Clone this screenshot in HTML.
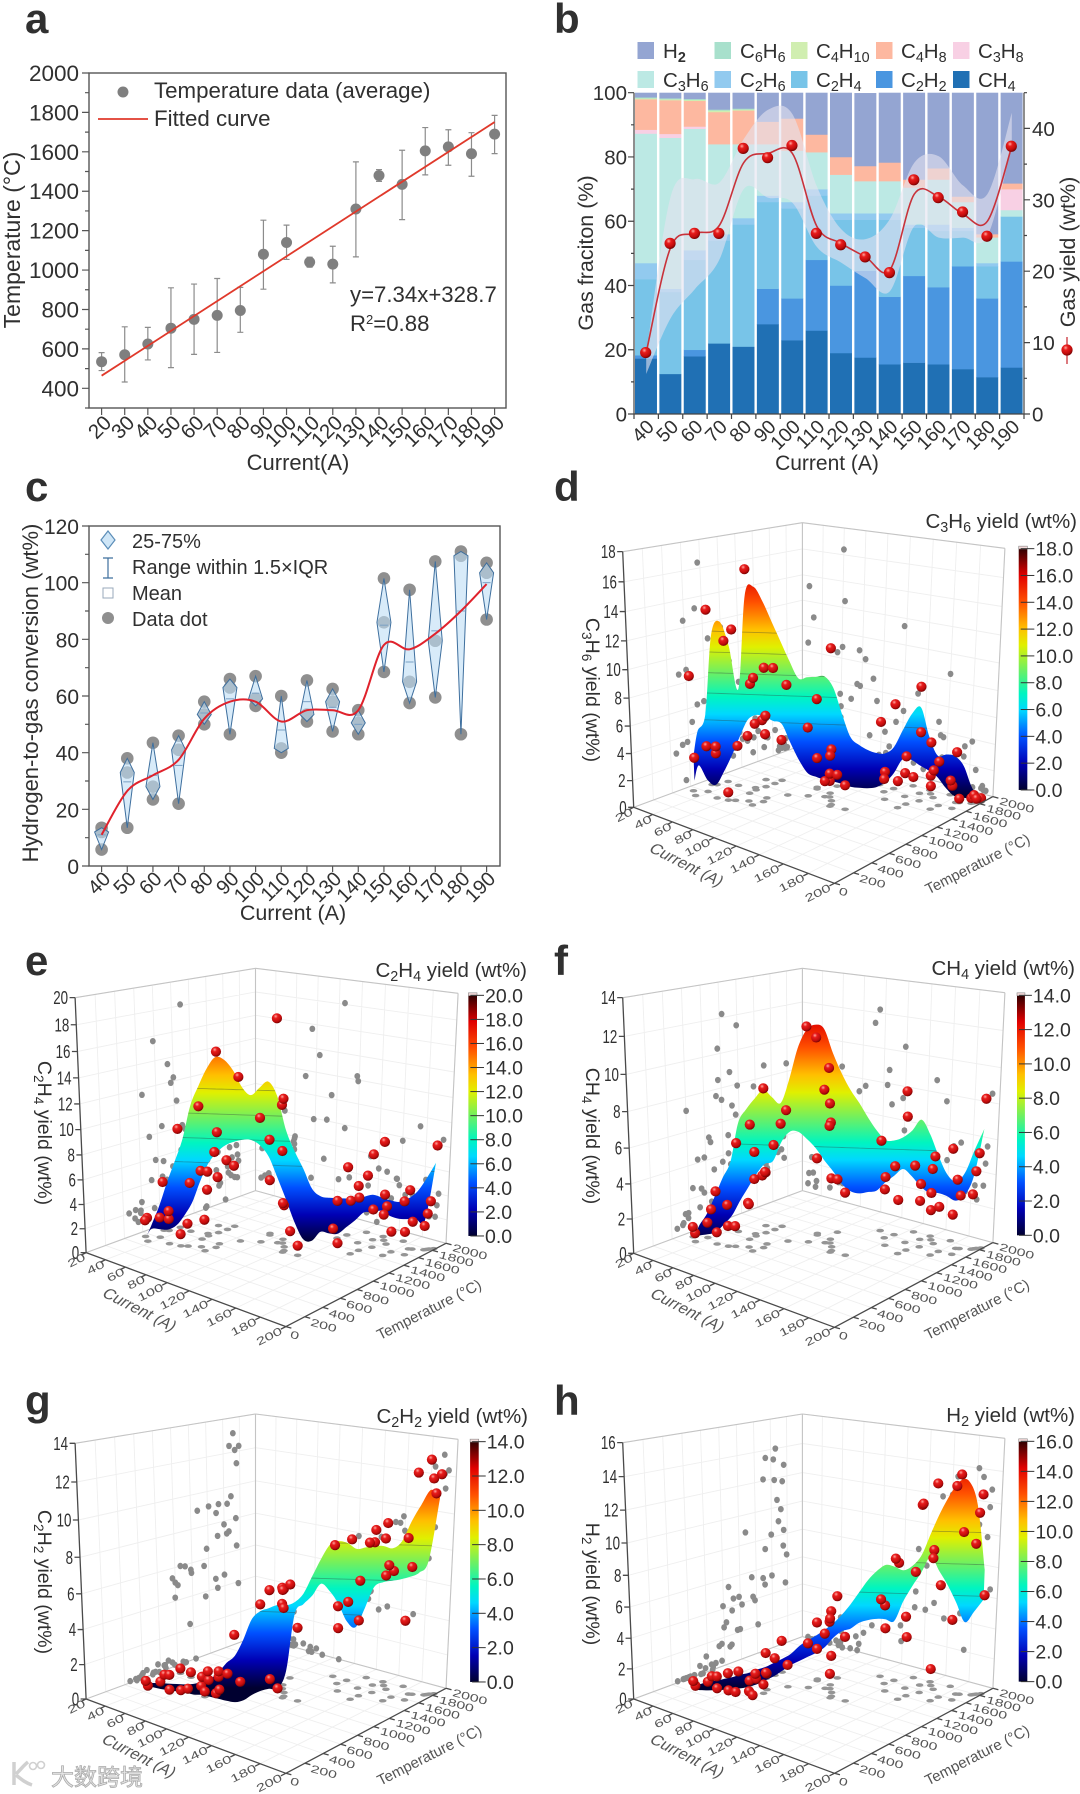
<!DOCTYPE html>
<html lang="en">
<head>
<meta charset="utf-8">
<title>Temperature, gas fraction, conversion and yield charts</title>
<style>
html,body{margin:0;padding:0;background:#fff;}
svg{display:block;font-family:"Liberation Sans","Noto Sans CJK SC",sans-serif;}
text{fill:#303030;}
.sm{font-size:70%;}
</style>
</head>
<body>
<svg id="fig" xmlns="http://www.w3.org/2000/svg" width="1080" height="1794" viewBox="0 0 1080 1794">
<defs>
<radialGradient id="sphere" cx="0.38" cy="0.3" r="0.75">
<stop offset="0" stop-color="#ffa8a0"/><stop offset="0.28" stop-color="#e81c1c"/><stop offset="0.7" stop-color="#c00c0c"/><stop offset="1" stop-color="#640000"/>
</radialGradient>
<linearGradient id="jet-bar" x1="0" y1="1" x2="0" y2="0">
<stop offset="0" stop-color="#000030"/><stop offset="0.11" stop-color="#0000b4"/><stop offset="0.22" stop-color="#0050ff"/><stop offset="0.33" stop-color="#00d8ff"/><stop offset="0.4" stop-color="#00f5c0"/><stop offset="0.5" stop-color="#70f060"/><stop offset="0.6" stop-color="#e0f000"/><stop offset="0.67" stop-color="#ffc000"/><stop offset="0.78" stop-color="#ff5000"/><stop offset="0.89" stop-color="#e00000"/><stop offset="1" stop-color="#300000"/>
</linearGradient>
</defs>

<g id="panel-a">
<text x="25" y="33" font-size="42" font-weight="bold" fill="#111">a</text>
<text transform="translate(20,240) rotate(-90)" text-anchor="middle" font-size="23">Temperature (°C)</text>
<text x="298" y="470" text-anchor="middle" font-size="22">Current(A)</text>
<text x="154" y="98" font-size="22.3">Temperature data (average)</text>
<text x="154" y="126" font-size="22.3">Fitted curve</text>
<circle cx="123" cy="92" r="5.5" fill="#7f7f7f"/>
<line x1="98" y1="119" x2="148" y2="119" stroke="#e0392b" stroke-width="1.8"/>
<text x="350" y="302" font-size="22.2">y=7.34x+328.7</text>
<text x="350" y="331" font-size="22.2">R<tspan dy="-7" font-size="13">2</tspan><tspan dy="7">=0.88</tspan></text>
</g>

<g id="panel-b">
<text x="554" y="33" font-size="42" font-weight="bold" fill="#111">b</text>
<text transform="translate(593,253) rotate(-90)" text-anchor="middle" font-size="21.5">Gas fraciton (%)</text>
<text transform="translate(1075,252) rotate(-90)" text-anchor="middle" font-size="21.5">Gas yield (wt%)</text>
<text x="827" y="470" text-anchor="middle" font-size="21">Current (A)</text>
<g font-size="20.5">
<text x="663" y="58">H<tspan dy="4" class="sm" font-weight="bold">2</tspan></text>
<text x="740" y="58">C<tspan dy="4" class="sm">6</tspan><tspan dy="-4">H</tspan><tspan dy="4" class="sm">6</tspan></text>
<text x="816" y="58">C<tspan dy="4" class="sm">4</tspan><tspan dy="-4">H</tspan><tspan dy="4" class="sm">10</tspan></text>
<text x="901" y="58">C<tspan dy="4" class="sm">4</tspan><tspan dy="-4">H</tspan><tspan dy="4" class="sm">8</tspan></text>
<text x="978" y="58">C<tspan dy="4" class="sm">3</tspan><tspan dy="-4">H</tspan><tspan dy="4" class="sm">8</tspan></text>
<text x="663" y="87">C<tspan dy="4" class="sm">3</tspan><tspan dy="-4">H</tspan><tspan dy="4" class="sm">6</tspan></text>
<text x="740" y="87">C<tspan dy="4" class="sm">2</tspan><tspan dy="-4">H</tspan><tspan dy="4" class="sm">6</tspan></text>
<text x="816" y="87">C<tspan dy="4" class="sm">2</tspan><tspan dy="-4">H</tspan><tspan dy="4" class="sm">4</tspan></text>
<text x="901" y="87">C<tspan dy="4" class="sm">2</tspan><tspan dy="-4">H</tspan><tspan dy="4" class="sm">2</tspan></text>
<text x="978" y="87">CH<tspan dy="4" class="sm">4</tspan></text>
</g>
</g>

<g id="panel-c">
<text x="25" y="501" font-size="42" font-weight="bold" fill="#111">c</text>
<text transform="translate(38,693) rotate(-90)" text-anchor="middle" font-size="22">Hydrogen-to-gas conversion (wt%)</text>
<text x="293" y="920" text-anchor="middle" font-size="21.5">Current (A)</text>
<text x="132" y="548" font-size="20">25-75%</text>
<text x="132" y="574" font-size="20">Range within 1.5×IQR</text>
<text x="132" y="600" font-size="20">Mean</text>
<text x="132" y="626" font-size="20">Data dot</text>
<polygon points="108,531 115,540 108,549 101,540" fill="#cfe6f7" stroke="#5b8db8" stroke-width="1.2"/>
<path d="M103 558H113M108 558V578M103 578H113" fill="none" stroke="#3e6f9e" stroke-width="1.2"/>
<rect x="103" y="588" width="10" height="10" fill="none" stroke="#9ab" stroke-width="1"/>
<circle cx="108" cy="618" r="6" fill="#8f8f8f"/>
</g>

<g id="panel-d">
<text x="554" y="501" font-size="42" font-weight="bold" fill="#111">d</text>
<text x="1077" y="528" text-anchor="end" font-size="20.5">C<tspan dy="4" class="sm">3</tspan><tspan dy="-4">H</tspan><tspan dy="4" class="sm">6</tspan><tspan dy="-4"> yield (wt%)</tspan></text>
<text transform="translate(586,690) rotate(90)" text-anchor="middle" font-size="19.5">C<tspan dy="4" class="sm">3</tspan><tspan dy="-4">H</tspan><tspan dy="4" class="sm">6</tspan><tspan dy="-4"> yield (wt%)</tspan></text>
</g>
<g id="panel-e">
<text x="25" y="975" font-size="42" font-weight="bold" fill="#111">e</text>
<text x="527" y="977" text-anchor="end" font-size="20.5">C<tspan dy="4" class="sm">2</tspan><tspan dy="-4">H</tspan><tspan dy="4" class="sm">4</tspan><tspan dy="-4"> yield (wt%)</tspan></text>
<text transform="translate(38,1133) rotate(90)" text-anchor="middle" font-size="19.5">C<tspan dy="4" class="sm">2</tspan><tspan dy="-4">H</tspan><tspan dy="4" class="sm">4</tspan><tspan dy="-4"> yield (wt%)</tspan></text>
</g>
<g id="panel-f">
<text x="554" y="975" font-size="42" font-weight="bold" fill="#111">f</text>
<text x="1075" y="975" text-anchor="end" font-size="20.5">CH<tspan dy="4" class="sm">4</tspan><tspan dy="-4"> yield (wt%)</tspan></text>
<text transform="translate(586,1136) rotate(90)" text-anchor="middle" font-size="19.5">CH<tspan dy="4" class="sm">4</tspan><tspan dy="-4"> yield (wt%)</tspan></text>
</g>
<g id="panel-g">
<text x="25" y="1415" font-size="42" font-weight="bold" fill="#111">g</text>
<text x="528" y="1423" text-anchor="end" font-size="20.5">C<tspan dy="4" class="sm">2</tspan><tspan dy="-4">H</tspan><tspan dy="4" class="sm">2</tspan><tspan dy="-4"> yield (wt%)</tspan></text>
<text transform="translate(38,1582) rotate(90)" text-anchor="middle" font-size="19.5">C<tspan dy="4" class="sm">2</tspan><tspan dy="-4">H</tspan><tspan dy="4" class="sm">2</tspan><tspan dy="-4"> yield (wt%)</tspan></text>
</g>
<g id="panel-h">
<text x="554" y="1415" font-size="42" font-weight="bold" fill="#111">h</text>
<text x="1075" y="1422" text-anchor="end" font-size="20.5">H<tspan dy="4" class="sm">2</tspan><tspan dy="-4"> yield (wt%)</tspan></text>
<text transform="translate(586,1584) rotate(90)" text-anchor="middle" font-size="19.5">H<tspan dy="4" class="sm">2</tspan><tspan dy="-4"> yield (wt%)</tspan></text>
</g>
<g id="overlay">
<path d="M14 1762V1785M16 1774C22 1768 24 1765 28 1762M16 1775C22 1780 26 1783 32 1785" fill="none" stroke="#d0d0d0" stroke-width="3.5"/>
<circle cx="33" cy="1766" r="3.5" fill="none" stroke="#d0d0d0" stroke-width="1.6"/>
<circle cx="41" cy="1765" r="3.5" fill="none" stroke="#d0d0d0" stroke-width="1.6"/>
<text x="51" y="1785" font-size="23" style="fill:#e6e6e6;stroke:#ababab;stroke-width:.8;font-family:'Liberation Sans','Noto Sans CJK SC',sans-serif">大数跨境</text>
</g>
</svg>

<script>
/* ---------- panel a ---------- */
const aCurrents = [20,30,40,50,60,70,80,90,100,110,120,130,140,150,160,170,180,190];
const aMeans = [535,570,625,705,750,770,795,1080,1140,1040,1030,1310,1480,1435,1605,1625,1590,1690];
const aErrHigh = [581,712,709,910,929,957,912,1253,1228,1065,1121,1549,1510,1608,1723,1712,1697,1785];
const aErrLow = [490,432,544,505,572,582,684,903,1054,1015,935,1067,1450,1256,1483,1532,1476,1591];
const aFitEnds = [464,1751];
const aYTicks = [400,600,800,1000,1200,1400,1600,1800,2000];

/* ---------- panel b ---------- */
const bCurrents = [40,50,60,70,80,90,100,110,120,130,140,150,160,170,180,190];
const gasNames = ['ch4','c2h2','c2h4','c2h6','c3h6','c3h8','c4h8','c4h10','c6h6','h2'];
const gasCH4 = [17.3,12.5,18,22,21,28,23,26,19,17.6,15.5,16,15.5,14,11.5,14.5];
const gasC2H2 = [1,0,2,0,0,11,13,22,21,27,21,27,24,32,24.5,33];
const gasC2H4 = [23.7,25.5,28,32,38,27,28,20,20.5,15.9,24,15,17.5,11,10,14];
const gasC2H6 = [5,1,3,2,2,2,2,2,2,2,2,1,2,1,1,0];
const gasC3H6 = [40.3,47,37.8,28,23,16,16,11.5,12,10,10,11.5,14,8,8,2];
const gasC3H8 = [1.2,1.2,0.7,0,0,0,0,0,0,0,0,0,0,0,0,6.5];
const gasC4H8 = [9.5,10.5,8,10,10.5,7,10,5.5,5.5,4.7,5.8,2.5,3.5,1.7,1,1.8];
const gasC4H10 = [0.3,0.3,0.3,0.5,0.3,0,0,0,0,0,0,0,0,0,0,0];
const gasC6H6 = [0.3,0.3,0.3,0.3,0.3,0,0,0,0,0,0,0,0,0,0,0];
const gasH2 = [1.4,1.7,1.9,5.2,4.9,9,8,13,20,22.7,21.7,27,23.5,32.3,44,28.2];
const gasColors = ['#2070b4','#4a96e0','#78c4e8','#92caef','#bce9e4','#f8d0e4','#fdb8a0','#d0eeb0','#a8e0cc','#94a5d2'];
const gasYield = [8.6,23.9,25.3,25.3,37.2,35.9,37.6,25.3,23.7,22,19.8,32.8,30.3,28.3,24.9,37.5];
const gasYieldCurve = [8.6,23.3,25.3,26.4,35.2,36.5,36.5,26.3,23.9,22,20.2,30.8,30.4,28,27,37.5];
const gasBandUpper = [8.3,30.4,32.9,32.4,38.5,42.6,42,31.9,25.9,24.5,27.3,35.2,36.1,32,30.8,42.2];
const gasBandLower = [5.6,13.4,17.5,21.6,31.5,30.3,29.6,23.4,21.2,19,17.2,26.3,24.7,24.7,24.9,37.5];
const bLeftTicks = [0,20,40,60,80,100];
const bRightTicks = [0,10,20,30,40];

/* ---------- panel c ---------- */
const cCurrents = [40,50,60,70,80,90,100,110,120,130,140,150,160,170,180,190];
const cMin = [5.8,13.5,23.5,22,50,46.5,56.5,40,51,47.5,46.5,68.5,57.5,59.5,46.5,87];
const cMid = [12,33,28,41,53.5,63,59,41.5,53.5,58,50.5,86,65,79.5,109.5,103.5];
const cMax = [13.5,38,43.5,46,58,66,67,60,65.5,62.5,55,101.5,97.5,107.5,111,107];
const cMean = [11,29.7,32,35.5,54,59,61,48,58,56,50,85,72,83,90,100];
const cCurve = [11,26.5,32,37.5,52,58,58,51,55,55,55,78,76.5,82,90,99.5];
const cYTicks = [0,20,40,60,80,100,120];

/* ---------- 3D panels: shared experiments ---------- */
const expCurrent = [34,26,35,49,27,30,58,62,31.5,43,70,77,60,78.5,59,55.6,75.5,60,50,60.5,83,60,95,119,91,118,89,105,113.5,108,103.5,130.5,98.5,140,156,131,120,156.5,132.5,147.5,160,174.5,152,140,175,164,158.6,154,185,181,170,183,194,190,191,192];
const expTemperature = [460,522,586,532,719,742,556,589,853,843,646,603,772,710,860,893,785,965,1087,1066,938,1160,1029,969,1192,1000,1220,1100,1064,1119,1186,994,1345,1357,1279,1486,1598,1380,1595,1509,1503,1414,1640,1747,1517,1631,1688,1754,1534,1658,1772,1672,1790,1720,1740,1760];
const c3h6Yield = [2.9,8.7,3.5,3.4,13.2,3.0,0.6,12.5,10.8,3.1,4.9,8.9,16.4,6.1,5.1,8.4,6.2,4.1,8.7,8.9,8.3,3.2,5.2,1.9,6.9,11.4,2.3,1.2,3.9,1.8,2.9,1.8,0.9,2.1,2.0,1.0,4.9,3.6,6.5,1.8,8.5,2.5,4.7,0.7,3.3,2.1,0.6,3.7,1.7,3.8,1.1,0.3,0.3,0.4,0.6,0.3];
const c2h4Yield = [2.0,1.4,1.7,2.1,4.2,1.7,1.0,1.9,8.5,4.2,11.5,2.6,5.8,7.9,5.5,3.8,15.6,4.8,8.1,6.0,13.5,5.3,10.3,11.9,8.1,12.3,4.6,18.1,3.5,7.7,3.1,0.8,0.1,0.2,4.4,3.2,0.2,4.4,5.8,4.8,7.7,9.2,2.6,4.9,1.7,3.2,3.9,1.9,1.9,4.9,3.4,2.3,8.5,2.0,3.0,4.0];
const ch4Yield = [0.5,0.6,0.9,0.7,1.3,2.4,1.2,1.2,1.4,5.3,2.6,7.2,2.1,4.2,5.0,3.3,4.2,8.5,3.3,5.1,7.6,6.2,12.2,10.3,11.4,7.3,4.5,8.8,4.0,6.8,7.9,3.6,3.2,4.0,3.1,2.9,5.4,7.6,4.1,8.7,2.7,2.6,3.3,4.0,2.6,5.1,4.2,2.6,2.3,4.0,5.4,3.1,8.5,3.2,4.5,5.5];
const c2h2Yield = [0.1,0.1,0.1,0,0.1,0.1,0.1,0.2,0.3,0.3,0.4,0.3,0.5,0,0.1,0.5,0,0.1,0,0.1,0.3,2.3,4.9,5.4,5.4,5.1,0,0,6.0,5.9,5.6,4.2,5.6,3.7,9.0,4.6,7.8,6.6,4.7,4.0,8.6,9.1,9.0,8.0,7.2,7.2,9.4,6.3,9.1,7.3,3.9,12.4,12.3,13.1,12.1,11.3];
const h2Yield = [0.1,0.1,0.1,0.1,0,0,0.1,0,0,0.4,0.1,0.1,0.3,0.6,0.2,0.4,1.1,0.4,1.3,1.2,1.5,2.2,3.0,1.6,2.2,2.7,3.9,3.7,5.4,4.5,4.5,4.2,5.6,4.2,8.8,5.3,5.3,3.9,8.2,4.8,12.1,2.1,11.9,7.2,7.3,13.3,9.0,8.3,13.5,14.0,4.5,10.5,6.5,9.8,11.7,12.8];

/* fitted surface: ridge follows the temperature fit, top and bottom yield per current */
const surfaceCurrent = [27,30,35,40,45,50,55,60,65,70,75,80,85,90,95,100,105,110,115,120,125,130,135,140,145,150,155,160,165,170,175,180,185,190,195];
const c3h6SurfaceTop = [2.7,4.6,5.9,11.7,12.7,11,7.9,14.6,15.2,14.2,12.8,11.4,10,8.8,8.9,8.95,9,8.2,6.3,4.6,4.05,3.7,3.5,3.5,4,5.3,6.5,7,4.9,3.5,3.6,3.5,2.8,1.2,0.3];
const c3h6SurfaceBottom = [0.8,2,0.9,0.55,1.6,2.85,4.3,5.6,6,5.9,5.6,5.4,4,2.7,1.75,1.5,1.3,1.2,1.05,0.85,0.8,0.8,0.9,1.3,2,3.1,3.1,2.7,2.35,1.9,1.1,0.5,0.4,0.3,0.2];
const c2h4SurfaceTop = [0.1,1.05,2.7,4.7,6.5,8.4,11.1,12.7,14.1,15,14.8,14,12.7,12.1,12.7,13.2,12.1,9.4,7.7,6.3,4.7,4.1,4,4,4,4,4.2,4.4,4.2,4,3.9,4.2,4.8,5.9,7.2];
const c2h4SurfaceBottom = [0.1,0.7,0.7,0.7,1.1,2,3.2,5,6.5,7.4,8,8.3,8.5,8.5,8.1,7.2,5.5,3.7,1.8,0.4,0.3,1.1,1,1,1.6,2.2,2.9,2.95,3.1,2.7,2.5,2.5,2.5,2.5,7.2];
const ch4SurfaceTop = [0,0.7,1.45,2.5,3.6,4.6,6.8,7.6,8.2,8.7,8.3,8,9.3,11,12,12.3,12.1,10.8,9.7,8.8,8.1,7.3,6.6,6.1,6.1,6.3,6.7,7.3,6.5,5.3,4.3,3.9,4.4,5.7,6.9];
const ch4SurfaceBottom = [0,0.1,0.2,0.35,0.85,1.4,2.3,3.1,3.9,4.5,4.7,5.8,6.4,6.4,6,5.5,4.8,4.2,3.5,3.1,3,3.1,3.2,3.7,4.1,4.5,4.1,3.55,3.2,3.2,3.05,2.8,3.1,4.2,6.9];
const c2h2SurfaceTop = [0,0,0,0,0,0,0.05,0.2,0.4,0.8,1.4,1.85,2.8,4,4.5,4.7,4.9,4.9,5.1,5.6,6.6,7.6,8.4,8.6,8.5,8.2,8.3,8.4,8.4,8.3,8.7,9.8,10.7,11.5,11.1];
const c2h2SurfaceBottom = [-0.15,-0.25,-0.35,-0.4,-0.45,-0.5,-0.6,-0.6,-0.7,-0.8,-0.9,-0.95,-0.8,-0.45,-0.2,-0.05,0,1.05,4.4,5,5.5,6.2,5.8,5.1,4.1,3.8,4.9,6.1,6.4,6.5,6.6,6.75,7,7.7,11.1];
const h2SurfaceTop = [-0.2,-0.1,0.1,0.2,0.35,0.5,0.7,0.85,1.1,1.3,1.6,1.9,2.25,2.8,3.2,3.55,3.95,4.4,5,5.7,6.5,7.3,7.9,8.3,8.2,8,8.3,9,10.4,11.7,12.8,13.6,13.6,12.2,8.2];
const h2SurfaceBottom = [-0.5,-0.5,-0.5,-0.45,-0.4,-0.3,-0.25,-0.1,0.1,0.4,0.7,1.1,1.5,1.8,2.1,2.4,2.8,3.45,3.9,4.1,4.5,4.7,4.8,4.8,4.7,6,7,7.9,8.9,8,7.1,6,4.8,5.5,6.3];
const c3h6Contours = [5.5,7.5,9,10.5,12];
const c2h4Contours = [6.5,8.5,10.5,12.5];
const ch4Contours = [5.6];
const c2h2Contours = [4.5,6.5,8.5];
const h2Contours = [6.5,8.5,10.5];
const currentTicks = [20,40,60,80,100,120,140,160,180,200];
const temperatureTicks = [0,200,400,600,800,1000,1200,1400,1600,1800,2000];

/* ---------- helpers ---------- */
const NS = 'http://www.w3.org/2000/svg';
const svgRoot = document.getElementById('fig');
const defsEl = svgRoot.querySelector('defs');
function mk(tag, parent, attrs) {
  const n = document.createElementNS(NS, tag);
  for (const k in attrs) n.setAttribute(k, attrs[k]);
  parent.appendChild(n);
  return n;
}
function mkText(parent, x, y, str, size, anchor, transform) {
  const n = mk('text', parent, {x: x, y: y, 'font-size': size, 'text-anchor': anchor || 'start'});
  if (transform) n.setAttribute('transform', transform);
  n.textContent = str;
  return n;
}
function smooth(pts) {
  let d = 'M' + pts[0][0].toFixed(1) + ' ' + pts[0][1].toFixed(1);
  for (let i = 0; i < pts.length - 1; i++) {
    const p0 = pts[Math.max(i - 1, 0)], p1 = pts[i], p2 = pts[i + 1], p3 = pts[Math.min(i + 2, pts.length - 1)];
    d += 'C' + (p1[0] + (p2[0] - p0[0]) / 6).toFixed(1) + ' ' + (p1[1] + (p2[1] - p0[1]) / 6).toFixed(1) + ' ' +
      (p2[0] - (p3[0] - p1[0]) / 6).toFixed(1) + ' ' + (p2[1] - (p3[1] - p1[1]) / 6).toFixed(1) + ' ' +
      p2[0].toFixed(1) + ' ' + p2[1].toFixed(1);
  }
  return d;
}
const linear = (d0, d1, r0, r1) => v => r0 + (v - d0) * (r1 - r0) / (d1 - d0);

/* ---------- panel a drawing ---------- */
(function () {
  const g = document.getElementById('panel-a');
  const L = 89, R = 506, T = 73, B = 408;
  const x = linear(20, 190, 101.6, 494.6), y = linear(300, 2000, B, T);
  let el = mk('rect', g, {x: L, y: T, width: R - L, height: B - T, fill: 'none', stroke: '#555', 'stroke-width': 1.4});
  
  
  let minor = '';
  for (let v = 300; v <= 2000; v += 100) minor += 'M' + L + ' ' + y(v) + 'h' + (v % 200 ? -4 : -7);
  aCurrents.forEach(c => { minor += 'M' + x(c) + ' ' + B + 'v7'; });
  el = mk('path', g, {d: minor, stroke: '#555', 'stroke-width': 1.2, fill: 'none'});
  
  
  aYTicks.forEach(v => {
    const t = mkText(g, L - 10, y(v) + 8, String(v), 22.5, 'end');
    
    
  });
  aCurrents.forEach(c => {
    const t = mkText(g, 0, 0, String(c), 20.5, 'end', 'translate(' + (x(c) + 11) + ',' + (B + 16) + ') rotate(-45)');
    
    
  });
  aCurrents.forEach((c, i) => {
    const e = mk('path', g, {d: 'M' + (x(c) - 3) + ' ' + y(aErrHigh[i]) + 'h6M' + x(c) + ' ' + y(aErrHigh[i]) + 'V' + y(aErrLow[i]) + 'M' + (x(c) - 3) + ' ' + y(aErrLow[i]) + 'h6', stroke: '#8c8c8c', 'stroke-width': 1.2, fill: 'none'});
    
    
  });
  aCurrents.forEach((c, i) => {
    const d = mk('circle', g, {cx: x(c), cy: y(aMeans[i]), r: 5.5, fill: '#7f7f7f'});
    
    
  });
  el = mk('line', g, {x1: x(20), y1: y(aFitEnds[0]), x2: x(190), y2: y(aFitEnds[1]), stroke: '#e0392b', 'stroke-width': 1.8});
  
  
})();

/* ---------- panel b drawing ---------- */
(function () {
  const g = document.getElementById('panel-b');
  const L = 634, R = 1024, T = 92.7, B = 414;
  const step = (R - L) / bCurrents.length;
  const cx = i => L + step * (i + 0.5);
  const y = linear(0, 100, B, T), yr = linear(0, 45, B, T);
  const stacks = [gasCH4, gasC2H2, gasC2H4, gasC2H6, gasC3H6, gasC3H8, gasC4H8, gasC4H10, gasC6H6, gasH2];
  bCurrents.forEach((c, i) => {
    let acc = 0;
    stacks.forEach((s, k) => {
      const top = Math.min(acc + s[i], 100);
      if (s[i] > 0) {
        const r = mk('rect', g, {x: cx(i) - step / 2 + 1, y: y(top), width: step - 2.4, height: y(acc) - y(top) + 0.3, fill: gasColors[k]});
        
        
      }
      acc = top;
    });
  });
  const band = bCurrents.map((c, i) => [cx(i), yr(gasBandUpper[i])]);
  const bandLow = bCurrents.map((c, i) => [cx(i), yr(gasBandLower[i])]).reverse();
  let el = mk('path', g, {d: smooth(band) + smooth(bandLow).replace('M', 'L') + 'Z', fill: 'rgba(228,226,240,0.6)'});
  
  
  el = mk('path', g, {d: smooth(bCurrents.map((c, i) => [cx(i), yr(gasYieldCurve[i])])), fill: 'none', stroke: '#c8323a', 'stroke-width': 1.6});
  
  
  bCurrents.forEach((c, i) => {
    const d = mk('circle', g, {cx: cx(i) - 0.5, cy: yr(gasYield[i]), r: 5.6, fill: 'url(#sphere)'});
    
    
  });
  let ticks = 'M' + L + ' ' + T + 'V' + B + 'H' + R + 'M' + R + ' ' + T + 'V' + B;
  for (let v = 0; v <= 100; v += 10) ticks += 'M' + L + ' ' + y(v) + 'h' + (v % 20 ? -3 : -6);
  for (let v = 0; v <= 45; v += 5) ticks += 'M' + R + ' ' + yr(v) + 'h' + (v % 10 ? 3 : 6);
  for (let i = 0; i <= bCurrents.length; i++) ticks += 'M' + (L + step * i) + ' ' + B + 'v5';
  el = mk('path', g, {d: ticks, stroke: '#444', 'stroke-width': 1.2, fill: 'none'});
  
  
  bLeftTicks.forEach(v => {
    const t = mkText(g, L - 7, y(v) + 7.5, String(v), 20.5, 'end');
    
    
  });
  bRightTicks.forEach(v => {
    const t = mkText(g, R + 8, yr(v) + 7.5, String(v), 20.5, 'start');
    
    
  });
  bCurrents.forEach((c, i) => {
    const t = mkText(g, 0, 0, String(c), 19.5, 'end', 'translate(' + (cx(i) + 9) + ',' + (B + 14) + ') rotate(-45)');
    
    
  });
  const legendOrder = [9, 8, 7, 6, 5, 4, 3, 2, 1, 0];
  const legendX = [637.5, 714.5, 791, 876, 953];
  legendOrder.forEach((k, i) => {
    const r = mk('rect', g, {x: legendX[i % 5], y: i < 5 ? 42 : 71, width: 16.5, height: 17, fill: gasColors[k]});
    
    
  });
  el = mk('line', g, {x1: 1067, y1: 337, x2: 1067, y2: 364, stroke: '#c8323a', 'stroke-width': 1.3});
  
  
  el = mk('circle', g, {cx: 1067, cy: 350, r: 5.6, fill: 'url(#sphere)'});
  
  
})();

/* ---------- panel c drawing ---------- */
(function () {
  const g = document.getElementById('panel-c');
  const L = 89, R = 500, T = 526, B = 866;
  const x = linear(40, 190, 101.6, 486.6), y = linear(0, 120, B, T);
  let el = mk('rect', g, {x: L, y: T, width: R - L, height: B - T, fill: 'none', stroke: '#555', 'stroke-width': 1.4});
  
  
  let ticks = '';
  for (let v = 0; v <= 120; v += 10) ticks += 'M' + L + ' ' + y(v) + 'h' + (v % 20 ? -4 : -7);
  cCurrents.forEach(c => { ticks += 'M' + x(c) + ' ' + B + 'v6'; });
  el = mk('path', g, {d: ticks, stroke: '#555', 'stroke-width': 1.2, fill: 'none'});
  
  
  cYTicks.forEach(v => {
    const t = mkText(g, L - 10, y(v) + 8, String(v), 21, 'end');
    
    
  });
  cCurrents.forEach(c => {
    const t = mkText(g, 0, 0, String(c), 20, 'end', 'translate(' + (x(c) + 10) + ',' + (B + 14) + ') rotate(-45)');
    
    
  });
  cCurrents.forEach((c, i) => {
    [cMin[i], cMid[i], cMax[i]].forEach(v => {
      const d = mk('circle', g, {cx: x(c), cy: y(v), r: 6.3, fill: '#8f8f8f'});
      
      
    });
    const w = 7;
    const dia = mk('polygon', g, {points: x(c) + ',' + y(cMin[i]) + ' ' + (x(c) + w) + ',' + y(cMid[i]) + ' ' + x(c) + ',' + y(cMax[i]) + ' ' + (x(c) - w) + ',' + y(cMid[i]), fill: 'rgba(190,222,245,0.6)', stroke: '#3e6f9e', 'stroke-width': 1});
    
    
    const m = mk('line', g, {x1: x(c) - 4, x2: x(c) + 4, y1: y(cMean[i]), y2: y(cMean[i]), stroke: '#7aa0c4', 'stroke-width': 1});
    
    
  });
  el = mk('path', g, {d: smooth(cCurrents.map((c, i) => [x(c), y(cCurve[i])])), fill: 'none', stroke: '#e0222c', 'stroke-width': 2});
  
  
})();

/* ---------- 3D panels ---------- */
const jetStops = [[0,'#000030'],[0.11,'#0000b4'],[0.22,'#0050ff'],[0.33,'#00d8ff'],[0.4,'#00f5c0'],[0.5,'#70f060'],[0.6,'#e0f000'],[0.67,'#ffc000'],[0.78,'#ff5000'],[0.89,'#e00000'],[1,'#300000']];
const ZX = 0.3444, ZY = 0.3333;
function homography(q) {
  const [p0, p1, p2, p3] = q;
  const dx1 = p1[0] - p2[0], dx2 = p3[0] - p2[0], sx = p0[0] - p1[0] + p2[0] - p3[0];
  const dy1 = p1[1] - p2[1], dy2 = p3[1] - p2[1], sy = p0[1] - p1[1] + p2[1] - p3[1];
  const den = dx1 * dy2 - dx2 * dy1;
  const g = (sx * dy2 - dx2 * sy) / den, h = (dx1 * sy - sx * dy1) / den;
  const a = p1[0] - p0[0] + g * p1[0], b = p3[0] - p0[0] + h * p3[0], c = p0[0];
  const d = p1[1] - p0[1] + g * p1[1], e = p3[1] - p0[1] + h * p3[1], f = p0[1];
  return (u, v) => { const w = g * u + h * v + 1; return [(a * u + b * v + c) / w, (d * u + e * v + f) / w]; };
}
function draw3D(cfg) {
  const g = document.getElementById(cfg.id);
  const floorH = homography(cfg.floor), topH = homography(cfg.top);
  const project = (c, T, z) => {
    const u = (c - 20) / 180, v = T / 2000, w = z / cfg.zMax, wp = w * (0.93 + 0.07 * w);
    const a = floorH(u, v), b = topH(u, v);
    return [cfg.ox + ZX * (a[0] + (b[0] - a[0]) * wp), cfg.oy + ZY * (a[1] + (b[1] - a[1]) * wp)];
  };
  /* data marks sit slightly right of the bare wall projection */
  const markPoint = (c, T, z) => {
    const p = project(c, T, z);
    return [p[0] + 4 + (c - 20) * 0.03, p[1]];
  };
  const seg = (p, q) => 'M' + p[0].toFixed(1) + ' ' + p[1].toFixed(1) + 'L' + q[0].toFixed(1) + ' ' + q[1].toFixed(1);
  const zStep = 2;
  let grid = '', frame = '';
  currentTicks.forEach(c => {
    grid += seg(project(c, 0, 0), project(c, 2000, 0));
    grid += seg(project(c, 2000, 0), project(c, 2000, cfg.zMax));
  });
  temperatureTicks.forEach(T => {
    grid += seg(project(20, T, 0), project(200, T, 0));
    grid += seg(project(20, T, 0), project(20, T, cfg.zMax));
  });
  for (let z = 0; z <= cfg.zMax; z += zStep) {
    grid += seg(project(20, 0, z), project(20, 2000, z));
    grid += seg(project(20, 2000, z), project(200, 2000, z));
  }
  let el = mk('path', g, {d: grid, stroke: '#efefef', 'stroke-width': 0.9, fill: 'none'});
  
  
  frame += seg(project(20, 0, cfg.zMax), project(20, 2000, cfg.zMax));
  frame += seg(project(20, 2000, cfg.zMax), project(200, 2000, cfg.zMax));
  frame += seg(project(20, 2000, 0), project(20, 2000, cfg.zMax));
  frame += seg(project(200, 2000, 0), project(200, 2000, cfg.zMax));
  frame += seg(project(20, 0, 0), project(20, 2000, 0));
  frame += seg(project(20, 2000, 0), project(200, 2000, 0));
  el = mk('path', g, {d: frame, stroke: '#c4c4c4', 'stroke-width': 1.1, fill: 'none'});
  
  

  expCurrent.forEach((c, i) => {
    const T = expTemperature[i], z = cfg.yields[i];
    const f = markPoint(c, T, 0), l = project(20, T, z), r = project(c, 2000, z);
    const fd = mk('ellipse', g, {cx: f[0], cy: f[1], rx: 3.8, ry: 1.8, fill: '#959595'});
    
    
    const ld = mk('ellipse', g, {cx: l[0], cy: l[1], rx: 2.9, ry: 3.2, fill: '#8a8a8a'});
    
    
    const rd = mk('ellipse', g, {cx: r[0], cy: r[1], rx: 2.9, ry: 3.2, fill: '#8a8a8a'});
    
    
  });

  const fit = c => 7.34 * c + 328.7;
  const grad = mk('linearGradient', defsEl, {id: cfg.id + '-jet', gradientUnits: 'userSpaceOnUse'});
  const g0 = project(100, fit(100), 0), g1 = project(100, fit(100), cfg.zMax);
  grad.setAttribute('x1', g0[0]); grad.setAttribute('y1', g0[1]);
  grad.setAttribute('x2', g0[0]); grad.setAttribute('y2', g1[1]);
  jetStops.forEach(s => { mk('stop', grad, {offset: s[0], 'stop-color': s[1]}); });
  const topPts = surfaceCurrent.map((c, i) => markPoint(c, fit(c), cfg.surfTop[i]));
  const botPts = surfaceCurrent.map((c, i) => markPoint(c, fit(c), cfg.surfBottom[i])).reverse();
  const ribbon = smooth(topPts) + smooth(botPts).replace('M', 'L') + 'Z';
  const clip = mk('clipPath', defsEl, {id: cfg.id + '-clip'});
  mk('path', clip, {d: ribbon});
  el = mk('path', g, {d: ribbon, fill: 'url(#' + cfg.id + '-jet)'});
  
  
  const contourGroup = mk('g', g, {'clip-path': 'url(#' + cfg.id + '-clip)'});
  
  
  cfg.levels.forEach(z => {
    const ln = mk('path', contourGroup, {d: smooth(surfaceCurrent.map(c => markPoint(c, fit(c), z))), fill: 'none', stroke: 'rgba(50,60,60,0.38)', 'stroke-width': 0.9});
    
    
  });
  expCurrent.forEach((c, i) => {
    const p = markPoint(c, expTemperature[i], cfg.yields[i]);
    const d = mk('circle', g, {cx: p[0], cy: p[1], r: 5.1, fill: 'url(#sphere)'});
    
    
  });

  let axes = seg(project(20, 0, 0), project(20, 0, cfg.zMax)) + seg(project(20, 0, 0), project(200, 0, 0)) + seg(project(200, 0, 0), project(200, 2000, 0));
  for (let z = 0; z <= cfg.zMax; z += zStep) { const p = project(20, 0, z); axes += 'M' + p[0] + ' ' + p[1] + 'h-5.5'; }
  currentTicks.forEach(c => { const p = project(c, 0, 0); axes += 'M' + p[0] + ' ' + p[1] + 'l-5 2.5'; });
  temperatureTicks.forEach(T => { const p = project(200, T, 0); axes += 'M' + p[0] + ' ' + p[1] + 'l5.5 1.5'; });
  el = mk('path', g, {d: axes, stroke: '#4a4a4a', 'stroke-width': 1.3, fill: 'none'});
  
  
  for (let z = 0; z <= cfg.zMax; z += zStep) {
    const p = project(20, 0, z);
    const t = mkText(g, 0, 0, String(z), 18.5, 'end', 'translate(' + (p[0] - 7) + ',' + (p[1] + 6.5) + ') scale(0.72,1)');
    
    
  }
  currentTicks.forEach(c => {
    const p = project(c, 0, 0), s = String(c), three = s.length === 3;
    const t = mkText(g, 0, 0, s, 16.5, 'middle', 'translate(' + (p[0] - (three ? 15 : 8)) + ',' + (p[1] + (three ? 13 : 11)) + ') rotate(-27) scale(1,0.66)');
    
    
    t.style.fill = '#555';
  });
  temperatureTicks.forEach(T => {
    const p = project(200, T, 0), s = String(T);
    const t = mkText(g, 0, 0, s, 16, 'middle', 'translate(' + (p[0] + 3 + s.length * 5) + ',' + (p[1] + 12) + ') rotate(15) scale(1,0.66)');
    
    
    t.style.fill = '#555';
  });
  const mA = project(110, 0, 0), mB = project(200, 1000, 0);
  let t = mkText(g, 0, 0, 'Current (A)', 16, 'middle', 'translate(' + (mA[0] - 42) + ',' + (mA[1] + 27) + ') rotate(27) skewX(-14)');
  
  
  t.style.fill = '#555';
  t = mkText(g, 0, 0, 'Temperature (°C)', 15, 'middle', 'translate(' + (mB[0] + 58) + ',' + (mB[1] + 33) + ') rotate(-27)');
  
  
  t.style.fill = '#555';

  const cb = cfg.bar;
  const bx0 = cfg.ox + ZX * cb[0], bx1 = cfg.ox + ZX * cb[1], by0 = cfg.oy + ZY * cb[2], by1 = cfg.oy + ZY * cb[3];
  el = mk('rect', g, {x: bx0, y: by0, width: bx1 - bx0, height: by1 - by0, fill: 'url(#jet-bar)'});
  
  
  el = mk('rect', g, {x: bx0, y: by0 - 2.5, width: bx1 - bx0, height: 2.8, fill: '#f3d9d9', stroke: '#888', 'stroke-width': 0.6});
  
  
  for (let z = 0; z <= cfg.zMax; z += zStep) {
    const yy = by1 + (by0 - by1) * (z / cfg.zMax);
    const tk = mk('line', g, {x1: bx0 + 2, x2: bx1 + 7, y1: yy, y2: yy, stroke: '#333', 'stroke-width': 1});
    
    
    const lb = mkText(g, bx1 + 8, yy + 7, z.toFixed(1), 19.5, 'start');
    
    
  }
}
draw3D({id: 'panel-d', ox: 540, oy: 470, zMax: 18, yields: c3h6Yield, surfTop: c3h6SurfaceTop, surfBottom: c3h6SurfaceBottom, levels: c3h6Contours,
  floor: [[272,1012],[855,1240],[1315,980],[762,825]], top: [[240,245],[840,340],[1350,235],[762,158]], bar: [1390,1415,236,960]});
draw3D({id: 'panel-e', ox: 0, oy: 930, zMax: 20, yields: c2h4Yield, surfTop: c2h4SurfaceTop, surfBottom: c2h4SurfaceBottom, levels: c2h4Contours,
  floor: [[250,968],[830,1190],[1295,940],[742,782]], top: [[218,203],[818,300],[1330,190],[742,115]], bar: [1360,1385,196,918]});
draw3D({id: 'panel-f', ox: 540, oy: 930, zMax: 14, yields: ch4Yield, surfTop: ch4SurfaceTop, surfBottom: ch4SurfaceBottom, levels: ch4Contours,
  floor: [[272,970],[855,1192],[1315,938],[762,782]], top: [[240,203],[840,300],[1350,188],[762,115]], bar: [1385,1408,196,916]});
draw3D({id: 'panel-g', ox: 0, oy: 1370, zMax: 14, yields: c2h2Yield, surfTop: c2h2SurfaceTop, surfBottom: c2h2SurfaceBottom, levels: c2h2Contours,
  floor: [[250,987],[830,1210],[1295,955],[742,800]], top: [[218,220],[818,318],[1330,208],[742,132]], bar: [1365,1390,215,936]});
draw3D({id: 'panel-h', ox: 540, oy: 1370, zMax: 16, yields: h2Yield, surfTop: h2SurfaceTop, surfBottom: h2SurfaceBottom, levels: h2Contours,
  floor: [[272,987],[855,1210],[1315,955],[762,800]], top: [[240,218],[840,318],[1350,205],[762,132]], bar: [1390,1415,214,935]});
</script>
</body>
</html>
